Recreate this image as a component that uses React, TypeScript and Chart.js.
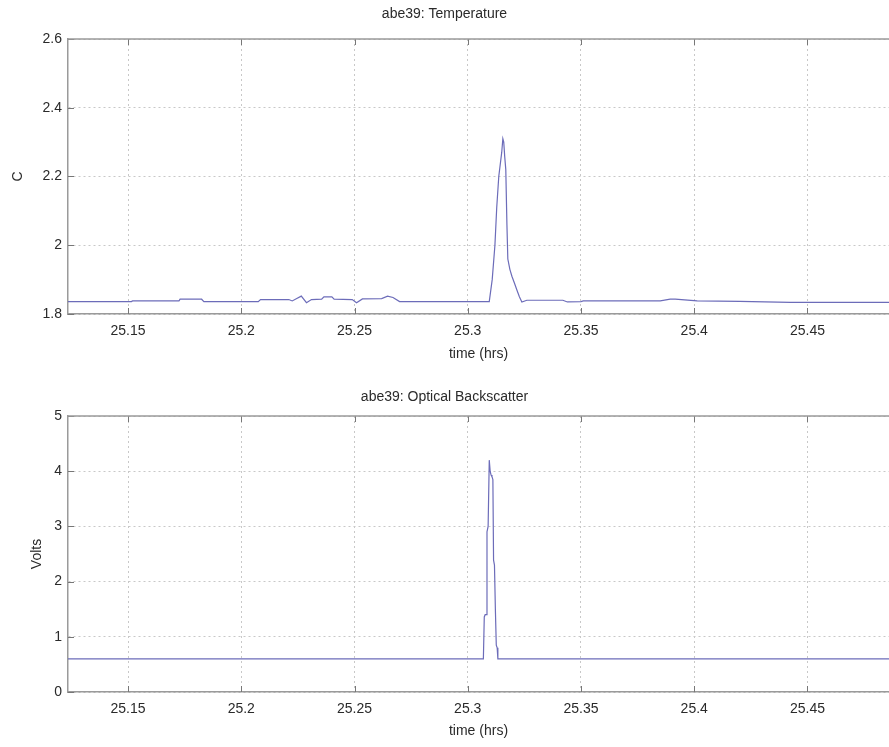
import React, { useEffect, useRef } from "react";
import { Chart, registerables } from "chart.js";

Chart.register(...registerables);

// ---------- data ----------
const tempTimes = [
  25.1235, 25.1515, 25.152, 25.1725, 25.173, 25.1825, 25.1835, 25.2075, 25.2085, 25.221,
  25.2225, 25.2245, 25.2265, 25.2288, 25.231, 25.2355, 25.2365, 25.24, 25.241, 25.249,
  25.2509, 25.2535, 25.262, 25.2646, 25.267, 25.2699, 25.3095, 25.3108, 25.312, 25.3128,
  25.3137, 25.315, 25.3155, 25.3159, 25.3163, 25.3168, 25.3173, 25.3177, 25.3186, 25.3195,
  25.3206, 25.3217, 25.3228, 25.3239, 25.3261, 25.342, 25.344, 25.35, 25.351, 25.385,
  25.3894, 25.3916, 25.4013, 25.42, 25.4425, 25.486,
];
const tempValues = [
  1.836, 1.836, 1.838, 1.838, 1.843, 1.843, 1.836, 1.836, 1.842, 1.842,
  1.838, 1.845, 1.852, 1.833, 1.842, 1.843, 1.85, 1.85, 1.843, 1.842,
  1.833, 1.844, 1.845, 1.852, 1.848, 1.836, 1.836, 1.9, 2.0, 2.11,
  2.2, 2.27, 2.31, 2.3, 2.26, 2.22, 2.06, 1.96, 1.93, 1.91,
  1.89, 1.87, 1.85, 1.835, 1.84, 1.84, 1.835, 1.836, 1.838, 1.838,
  1.843, 1.843, 1.838, 1.837, 1.834, 1.834,
];

const obsTimes = [
  25.1235, 25.3069, 25.3073, 25.3077, 25.3081, 25.3085, 25.309, 25.3095, 25.3099, 25.3103,
  25.3107, 25.3111, 25.3114, 25.3118, 25.3122, 25.3126, 25.313, 25.3133, 25.486,
];
const obsValues = [
  0.6, 0.6, 1.36, 1.4, 1.4, 2.9, 3.0, 4.2, 4.0, 3.93,
  3.9, 3.85, 2.39, 2.3, 1.5, 0.85, 0.8, 0.6, 0.6,
];

const xTicks = [25.15, 25.2, 25.25, 25.3, 25.35, 25.4, 25.45];
const xTickLabels = ["25.15", "25.2", "25.25", "25.3", "25.35", "25.4", "25.45"];
const tempTicks = [1.8, 2, 2.2, 2.4, 2.6];
const tempTickLabels = ["1.8", "2", "2.2", "2.4", "2.6"];
const obsTicks = [0, 1, 2, 3, 4, 5];
const obsTickLabels = ["0", "1", "2", "3", "4", "5"];

const X_MIN = 25.1235;
const X_MAX = 25.486;

// ---------- styling ----------
const FONT = { family: "'Liberation Sans', Arial, sans-serif", size: 14 };
const TEXT = "#2a2a2a";
const LINE = "#6c6cb9";
const GRID = "#c8c8c8";
const AXIS = "#9a9a9a";

const framePlugin = {
  id: "frame",
  afterDraw(chart: any) {
    const { ctx, chartArea: a, scales } = chart;
    ctx.save();
    ctx.strokeStyle = "#777";
    ctx.lineWidth = 1;
    ctx.beginPath();
    scales.x.ticks.forEach((t: any) => {
      const px = Math.round(scales.x.getPixelForValue(t.value)) + 0.5;
      ctx.moveTo(px, a.bottom);
      ctx.lineTo(px, a.bottom - 6);
      ctx.moveTo(px, a.top);
      ctx.lineTo(px, a.top + 6);
    });
    scales.y.ticks.forEach((t: any) => {
      const py = Math.round(scales.y.getPixelForValue(t.value)) + 0.5;
      ctx.moveTo(a.left, py);
      ctx.lineTo(a.left + 6, py);
    });
    ctx.stroke();
    ctx.strokeStyle = AXIS;
    ctx.lineWidth = 1.5;
    ctx.beginPath();
    ctx.moveTo(a.left, a.top);
    ctx.lineTo(a.right, a.top);
    ctx.stroke();
    ctx.restore();
  },
};

interface Cfg {
  title: string;
  yLabel: string;
  times: number[];
  values: number[];
  yTicks: number[];
  yTickLabels: string[];
  titleTop: number;
  titleBottom: number;
  xHeight: number;
  xTitleBottom: number;
  yTitleTop: number;
}

function makeConfig(c: Cfg): any {
  const yMin = c.yTicks[0];
  const yMax = c.yTicks[c.yTicks.length - 1];
  return {
    type: "line",
    data: {
      datasets: [
        {
          data: c.times.map((t, i) => ({ x: t, y: c.values[i] })),
          borderColor: LINE,
          borderWidth: 1.2,
          pointRadius: 0,
          tension: 0,
          fill: false,
        },
      ],
    },
    options: {
      animation: false,
      responsive: false,
      layout: { padding: 0 },
      plugins: {
        legend: { display: false },
        tooltip: { enabled: false },
        title: {
          display: true,
          text: c.title,
          color: TEXT,
          font: { ...FONT, weight: "normal" },
          padding: { top: c.titleTop, bottom: c.titleBottom },
        },
      },
      scales: {
        x: {
          type: "linear",
          min: X_MIN,
          max: X_MAX,
          afterBuildTicks: (s: any) => {
            s.ticks = xTicks.map((v) => ({ value: v }));
          },
          afterFit: (s: any) => {
            s.height = c.xHeight;
          },
          ticks: {
            callback: (v: number) => xTickLabels[xTicks.indexOf(v)],
            color: TEXT,
            font: FONT,
            padding: 9,
            maxRotation: 0,
            autoSkip: false,
          },
          grid: { color: GRID, lineWidth: 1, drawTicks: false },
          border: { color: AXIS, width: 1.5, dash: [2, 3] },
          title: {
            display: true,
            text: "time (hrs)",
            color: TEXT,
            font: FONT,
            padding: { top: 0, bottom: c.xTitleBottom },
          },
        },
        y: {
          type: "linear",
          min: yMin,
          max: yMax,
          afterBuildTicks: (s: any) => {
            s.ticks = c.yTicks.map((v) => ({ value: v }));
          },
          afterFit: (s: any) => {
            s.width = 68;
          },
          ticks: {
            callback: (v: number) => c.yTickLabels[c.yTicks.indexOf(v)],
            color: TEXT,
            font: FONT,
            padding: 6,
            autoSkip: false,
          },
          grid: { color: GRID, lineWidth: 1, drawTicks: false },
          border: { color: AXIS, width: 1.5, dash: [2, 3] },
          title: {
            display: true,
            text: c.yLabel,
            color: TEXT,
            font: FONT,
            padding: { top: c.yTitleTop, bottom: 0 },
          },
        },
      },
    },
    plugins: [framePlugin],
  };
}

export default function App() {
  const topRef = useRef<HTMLCanvasElement>(null);
  const botRef = useRef<HTMLCanvasElement>(null);

  useEffect(() => {
    const c1 = new Chart(
      topRef.current!,
      makeConfig({
        title: "abe39: Temperature",
        yLabel: "C",
        times: tempTimes,
        values: tempValues,
        yTicks: tempTicks,
        yTickLabels: tempTickLabels,
        titleTop: 5.6,
        titleBottom: 16.6,
        xHeight: 61,
        xTitleBottom: 12.6,
        yTitleTop: 9.6,
      })
    );
    const c2 = new Chart(
      botRef.current!,
      makeConfig({
        title: "abe39: Optical Backscatter",
        yLabel: "Volts",
        times: obsTimes,
        values: obsValues,
        yTicks: obsTicks,
        yTickLabels: obsTickLabels,
        titleTop: 13.6,
        titleBottom: 10.6,
        xHeight: 55,
        xTitleBottom: 7.6,
        yTitleTop: 28.6,
      })
    );
    return () => {
      c1.destroy();
      c2.destroy();
    };
  }, []);

  return (
    <div
      style={{
        position: "absolute",
        left: 0,
        top: 0,
        width: 889,
        height: 747,
        background: "#fff",
        overflow: "hidden",
      }}
    >
      <canvas
        ref={topRef}
        width={889}
        height={375}
        style={{ position: "absolute", left: 0, top: 0, width: 889, height: 375 }}
      />
      <canvas
        ref={botRef}
        width={889}
        height={372}
        style={{ position: "absolute", left: 0, top: 375, width: 889, height: 372 }}
      />
    </div>
  );
}
